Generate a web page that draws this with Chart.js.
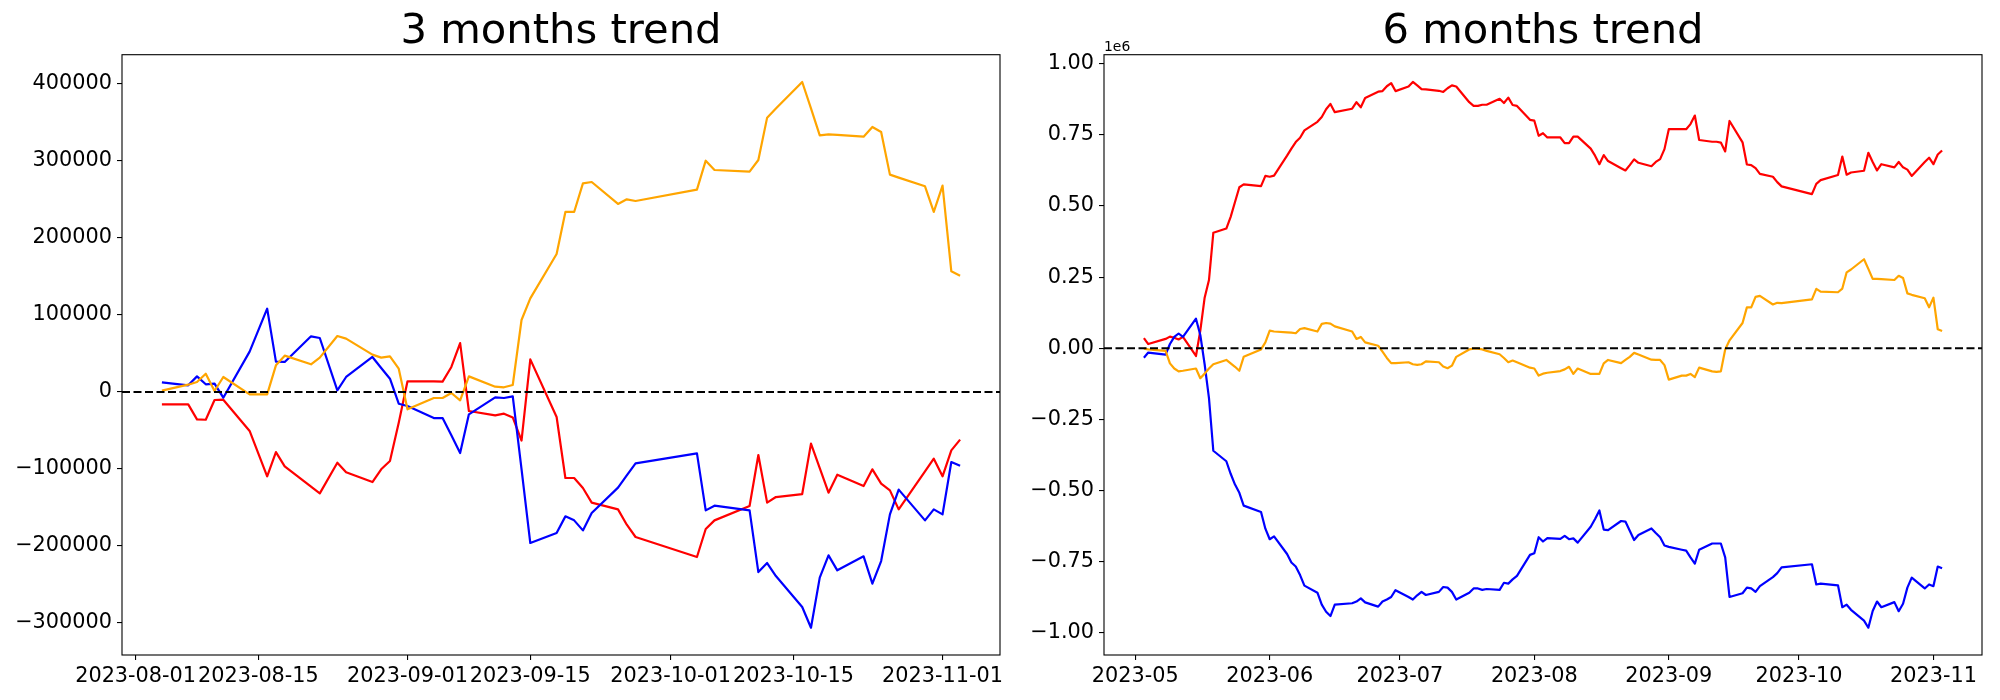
<!DOCTYPE html>
<html>
<head>
<meta charset="utf-8">
<script src="https://cdn.jsdelivr.net/npm/chart.js@4.4.1/dist/chart.umd.min.js"></script>
<style>
  html, body { margin: 0; padding: 0; background: #ffffff; }
  #wrap { position: relative; width: 2000px; height: 700px; background: #ffffff; }
  canvas { position: absolute; left: 0; top: 0; }
</style>
</head>
<body>
<div id="wrap">
  <canvas id="c3" width="2000" height="700"></canvas>
  <canvas id="c6" width="2000" height="700"></canvas>
</div>
<script>
// ---------------- 3 months trend ----------------
const title3 = '3 months trend';
const dates3 = [
  '2023-08-04','2023-08-07','2023-08-08','2023-08-09','2023-08-10','2023-08-11','2023-08-14','2023-08-16','2023-08-17','2023-08-18',
  '2023-08-21','2023-08-22','2023-08-24','2023-08-25','2023-08-28','2023-08-29','2023-08-30','2023-08-31',
  '2023-09-01','2023-09-04','2023-09-05','2023-09-06','2023-09-07','2023-09-08','2023-09-11','2023-09-12','2023-09-13','2023-09-14',
  '2023-09-15','2023-09-18','2023-09-19','2023-09-20','2023-09-21','2023-09-22','2023-09-25','2023-09-26','2023-09-27',
  '2023-10-04','2023-10-05','2023-10-06','2023-10-10','2023-10-11','2023-10-12','2023-10-13','2023-10-16','2023-10-17','2023-10-18',
  '2023-10-19','2023-10-20','2023-10-23','2023-10-24','2023-10-25','2023-10-26','2023-10-27','2023-10-30','2023-10-31',
  '2023-11-01','2023-11-02','2023-11-03'
];
const red3 = [
  -16000,-16000,-35500,-36000,-10400,-10000,-50600,-109500,-78000,-96500,-123000,-131600,-91800,-104300,-116900,-100400,-89600,-40000,
  13900,13900,13400,32500,63600,-24700,-30300,-28100,-33000,-63000,42400,-32500,-111700,-111700,-124700,-143700,-152400,-172300,-188300,
  -214300,-177900,-166700,-148100,-81800,-143700,-136400,-132500,-67100,-98700,-130700,-107400,-122100,-100400,-119000,-127700,-152400,-103000,-86600,
  -109500,-75800,-61900
];
const blue3 = [
  12500,8700,20300,10000,10800,-7400,52400,108200,39400,39000,72300,70100,2200,19500,45500,31200,17300,-15200,
  -18200,-33800,-33800,-56300,-79200,-29000,-6900,-7800,-5600,-100000,-196100,-183100,-161500,-166700,-179700,-157100,-124200,-108200,-92600,
  -79700,-153700,-147600,-153700,-233800,-222100,-239000,-279200,-306100,-241100,-212100,-231600,-213400,-248900,-219500,-158900,-126800,-166700,-152400,
  -158900,-90900,-95700
];
const orange3 = [
  1700,9500,13000,23800,1300,19500,-3000,-3000,34600,47200,36000,44600,72700,69300,48500,44600,46300,30300,
  -22500,-7800,-7800,-1300,-10800,20300,6900,6100,9100,93500,121600,179200,233800,233800,271000,272700,244200,250200,248100,
  262800,300400,288300,286100,301300,356300,368200,402600,368400,333300,334600,333900,331600,344200,337700,282300,278400,267100,233800,
  268000,156700,151100
];
const xTicks3 = ['2023-08-01','2023-08-15','2023-09-01','2023-09-15','2023-10-01','2023-10-15','2023-11-01'];
const yTicks3 = [-300000,-200000,-100000,0,100000,200000,300000,400000];

// ---------------- 6 months trend ----------------
const title6 = '6 months trend';
const dates6 = [
  '2023-05-03','2023-05-04','2023-05-08','2023-05-09','2023-05-10','2023-05-11','2023-05-12','2023-05-15','2023-05-16','2023-05-17',
  '2023-05-18','2023-05-19','2023-05-22','2023-05-23','2023-05-24','2023-05-25','2023-05-26','2023-05-30','2023-05-31',
  '2023-06-01','2023-06-02','2023-06-05','2023-06-06','2023-06-07','2023-06-08','2023-06-09','2023-06-12','2023-06-13','2023-06-14',
  '2023-06-15','2023-06-16','2023-06-20','2023-06-21','2023-06-22','2023-06-23','2023-06-26','2023-06-27','2023-06-28','2023-06-29','2023-06-30',
  '2023-07-03','2023-07-04','2023-07-05','2023-07-06','2023-07-07','2023-07-10','2023-07-11','2023-07-12','2023-07-13','2023-07-14',
  '2023-07-17','2023-07-18','2023-07-19','2023-07-20','2023-07-21','2023-07-24','2023-07-25','2023-07-26','2023-07-27','2023-07-28','2023-07-31',
  '2023-08-01','2023-08-02','2023-08-03','2023-08-04','2023-08-07','2023-08-08','2023-08-09','2023-08-10','2023-08-11','2023-08-14',
  '2023-08-15','2023-08-16','2023-08-17','2023-08-18','2023-08-21','2023-08-22','2023-08-23','2023-08-24','2023-08-25','2023-08-28',
  '2023-08-29','2023-08-30','2023-08-31',
  '2023-09-01','2023-09-04','2023-09-05','2023-09-06','2023-09-07','2023-09-08','2023-09-11','2023-09-12','2023-09-13','2023-09-14',
  '2023-09-15','2023-09-18','2023-09-19','2023-09-20','2023-09-21','2023-09-22','2023-09-25','2023-09-26','2023-09-27',
  '2023-10-04','2023-10-05','2023-10-06','2023-10-10','2023-10-11','2023-10-12','2023-10-13','2023-10-16','2023-10-17','2023-10-18',
  '2023-10-19','2023-10-20','2023-10-23','2023-10-24','2023-10-25','2023-10-26','2023-10-27','2023-10-30','2023-10-31',
  '2023-11-01','2023-11-02','2023-11-03'
];
const red6 = [
  36000,15000,33000,41000,37000,31000,40000,-27000,62000,178000,240000,406000,421000,462000,514000,566000,576000,570000,606000,
  603000,607000,677000,702000,725000,740000,766000,796000,813000,840000,859000,830000,842000,865000,847000,880000,902000,904000,921000,932000,904000,
  920000,936000,924000,911000,910000,905000,901000,914000,924000,920000,865000,852000,852000,856000,856000,877000,862000,881000,855000,852000,803000,
  800000,747000,756000,741000,741000,721000,721000,744000,744000,702000,677000,647000,679000,658000,633000,625000,644000,664000,652000,640000,655000,665000,700000,
  770000,770000,770000,788000,818000,732000,726000,726000,723000,692000,799000,724000,646000,644000,633000,613000,603000,584000,569000,
  542000,578000,591000,609000,674000,610000,618000,624000,687000,655000,625000,647000,636000,655000,636000,628000,606000,655000,670000,
  647000,681000,695000
];
const blue6 = [
  -33000,-15000,-22000,15000,40000,52000,40000,104000,47000,-56000,-175000,-360000,-397000,-441000,-479000,-508000,-553000,-575000,-634000,
  -671000,-661000,-723000,-753000,-767000,-797000,-834000,-859000,-901000,-926000,-941000,-901000,-896000,-890000,-879000,-893000,-908000,-890000,-883000,-874000,-850000,
  -874000,-883000,-868000,-856000,-867000,-856000,-839000,-841000,-856000,-883000,-859000,-844000,-844000,-849000,-846000,-849000,-824000,-827000,-812000,-800000,-726000,
  -720000,-664000,-679000,-667000,-670000,-659000,-671000,-668000,-683000,-627000,-600000,-570000,-637000,-639000,-607000,-609000,-641000,-674000,-656000,-633000,-649000,-664000,-693000,
  -698000,-708000,-711000,-735000,-757000,-708000,-686000,-686000,-686000,-735000,-874000,-861000,-841000,-844000,-856000,-836000,-804000,-790000,-770000,
  -759000,-830000,-827000,-833000,-910000,-901000,-919000,-957000,-982000,-923000,-890000,-910000,-892000,-924000,-898000,-841000,-806000,-844000,-830000,
  -836000,-767000,-773000
];
const orange6 = [
  -1000,-4000,-9000,-53000,-71000,-81000,-79000,-71000,-105000,-89000,-71000,-56000,-41000,-53000,-65000,-79000,-30000,-4000,21000,
  62000,59000,56000,55000,53000,68000,71000,59000,86000,89000,87000,77000,59000,33000,40000,21000,9000,-12000,-34000,-52000,-52000,
  -49000,-56000,-58000,-56000,-46000,-49000,-64000,-70000,-61000,-30000,-4000,-1000,-1000,-4000,-9000,-21000,-34000,-49000,-43000,-49000,-68000,
  -71000,-96000,-89000,-86000,-80000,-74000,-65000,-90000,-71000,-90000,-90000,-90000,-53000,-41000,-52000,-41000,-30000,-16000,-22000,-40000,-41000,-41000,-59000,
  -110000,-96000,-96000,-90000,-101000,-68000,-81000,-83000,-81000,-4000,28000,89000,144000,144000,181000,184000,154000,160000,159000,
  172000,209000,199000,197000,210000,267000,277000,313000,279000,244000,244000,243000,240000,255000,247000,193000,188000,176000,144000,
  178000,67000,61000
];
const xTicks6 = ['2023-05','2023-06','2023-07','2023-08','2023-09','2023-10','2023-11'];
const yTicks6 = [-1000000,-750000,-500000,-250000,0,250000,500000,750000,1000000];
const offsetLabel6 = '1e6';

// ---------------- helpers ----------------
const FONT = 'DejaVu Sans';
const MINUS = '\u2212';
const toTime = s => Date.parse(s.length === 7 ? s + '-01' : s);
const fmtMinus = s => s.replace('-', MINUS);

const framePlugin = {
  id: 'frame',
  afterDatasetsDraw(chart, args, opts) {
    const a = chart.chartArea;
    const ctx = chart.ctx;
    ctx.save();
    ctx.strokeStyle = '#000000';
    ctx.lineWidth = 1.1;
    ctx.strokeRect(a.left, a.top, a.right - a.left, a.bottom - a.top);
    if (opts && opts.offsetText) {
      ctx.fillStyle = '#000000';
      ctx.font = '13.9px "' + FONT + '"';
      ctx.textAlign = 'left';
      ctx.textBaseline = 'alphabetic';
      ctx.fillText(opts.offsetText, a.left, a.top - 3.5);
    }
    ctx.restore();
  }
};

function makeChart(id, cfg) {
  const xs = cfg.dates.map(toTime);
  const x0 = Math.min(...xs), x1 = Math.max(...xs);
  const xMin = x0 - 0.05 * (x1 - x0), xMax = x1 + 0.05 * (x1 - x0);
  const all = cfg.red.concat(cfg.blue, cfg.orange);
  const y0 = Math.min(...all), y1 = Math.max(...all);
  const yMin = y0 - 0.05 * (y1 - y0), yMax = y1 + 0.05 * (y1 - y0);
  const pts = arr => arr.map((v, i) => ({ x: xs[i], y: v }));
  const tickVals = cfg.xTicks.map(toTime);
  const line = (data, color) => ({
    data, borderColor: color, backgroundColor: color, borderWidth: 2.2,
    pointRadius: 0, tension: 0, fill: false, borderJoinStyle: 'round'
  });
  const zero = {
    data: [{ x: xMin, y: 0 }, { x: xMax, y: 0 }],
    borderColor: '#000000', borderWidth: 2, borderDash: [8, 3.5],
    pointRadius: 0, tension: 0, fill: false
  };
  return new Chart(document.getElementById(id), {
    type: 'line',
    data: {
      datasets: [zero, line(pts(cfg.orange), '#ffa500'), line(pts(cfg.blue), '#0000ff'), line(pts(cfg.red), '#ff0000')]
    },
    options: {
      responsive: false,
      devicePixelRatio: 1,
      animation: false,
      events: [],
      layout: { padding: { left: cfg.padLeft, right: cfg.padRight, top: 0, bottom: 0 } },
      plugins: {
        legend: { display: false },
        tooltip: { enabled: false },
        title: {
          display: true, text: cfg.title, fullSize: false, color: '#000000',
          font: { family: FONT, size: 41.7, weight: 'normal', lineHeight: 1 },
          padding: { top: 11, bottom: 2 }
        },
        frame: { offsetText: cfg.offsetText || '' }
      },
      scales: {
        x: {
          type: 'linear', min: xMin, max: xMax,
          afterBuildTicks: s => { s.ticks = tickVals.map(v => ({ value: v })); },
          afterFit: s => { s.height = 45; },
          grid: { display: true, drawOnChartArea: false, drawTicks: true, tickLength: 5, color: '#000000', lineWidth: 1.1 },
          border: { display: false },
          ticks: {
            autoSkip: false, maxRotation: 0, minRotation: 0, padding: 4, color: '#000000',
            font: { family: FONT, size: 20.8 },
            callback: (v, i) => cfg.xTicks[i]
          }
        },
        y: {
          type: 'linear', min: yMin, max: yMax,
          afterBuildTicks: s => { s.ticks = cfg.yTicks.map(v => ({ value: v })); },
          afterFit: s => { s.width = cfg.yWidth; },
          grid: { display: true, drawOnChartArea: false, drawTicks: true, tickLength: 5, color: '#000000', lineWidth: 1.1 },
          border: { display: false },
          ticks: {
            autoSkip: false, padding: 5, color: '#000000',
            font: { family: FONT, size: 20.8 },
            callback: (v, i) => cfg.yLabel(cfg.yTicks[i])
          }
        }
      }
    },
    plugins: [framePlugin]
  });
}

makeChart('c3', {
  title: title3, dates: dates3, red: red3, blue: blue3, orange: orange3,
  xTicks: xTicks3, yTicks: yTicks3,
  yLabel: v => fmtMinus(String(v)),
  padLeft: 0, padRight: 1000, yWidth: 122
});

makeChart('c6', {
  title: title6, dates: dates6, red: red6, blue: blue6, orange: orange6,
  xTicks: xTicks6, yTicks: yTicks6,
  yLabel: v => fmtMinus((v / 1e6).toFixed(2)),
  padLeft: 1000, padRight: 18, yWidth: 104, offsetText: offsetLabel6
});
</script>
</body>
</html>
